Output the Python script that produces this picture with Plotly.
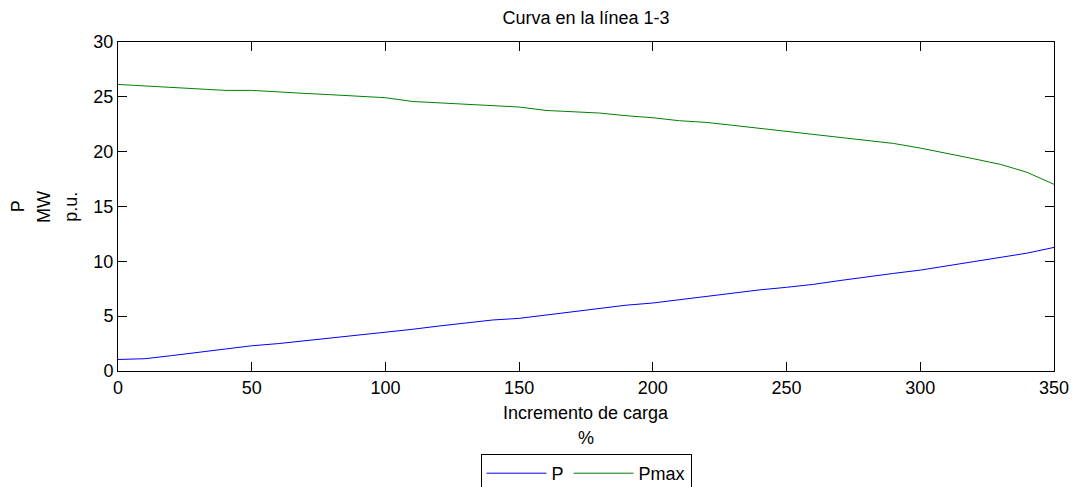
import plotly.graph_objects as go

load_pct = [0, 10, 20, 30, 40, 50, 60, 70, 80, 90, 100, 110, 120, 130, 140, 150, 160, 170,
            180, 190, 200, 210, 220, 230, 240, 250, 260, 270, 280, 290, 300, 310, 320, 330, 340, 350]
p_values = [1.05, 1.12, 1.4, 1.7, 2.0, 2.3, 2.5, 2.75, 3.0, 3.28, 3.5, 3.8, 4.1, 4.4, 4.65, 4.8,
            5.1, 5.4, 5.7, 6.0, 6.2, 6.5, 6.85, 7.15, 7.4, 7.63, 7.9, 8.25, 8.6, 8.9, 9.2, 9.6,
            9.95, 10.35, 10.75, 11.27]
pmax_values = [26.13, 26.0, 25.89, 25.77, 25.59, 25.59, 25.43, 25.31, 25.19, 25.07, 24.92, 24.58,
               24.46, 24.34, 24.22, 24.07, 23.76, 23.64, 23.52, 23.28, 23.09, 22.82, 22.67, 22.4,
               22.12, 21.85, 21.58, 21.33, 21.06, 20.75, 20.33, 19.87, 19.35, 18.84, 18.11, 17.02]

x_ticks = [0, 50, 100, 150, 200, 250, 300, 350]
y_ticks = [0, 5, 10, 15, 20, 25, 30]
y_title_lines = ["P", "MW", "p.u."]
x_title_lines = ["Incremento de carga", "%"]

FONT = "Liberation Sans, Arial, sans-serif"
W, H = 1081, 487
L, R, T, B = 118, 21, 42, 116
PW, PH = W - L - R, H - T - B

fig = go.Figure()
fig.add_trace(go.Scatter(x=load_pct, y=p_values, mode="lines", name="P",
                         line=dict(color="rgb(0,0,255)", width=1)))
fig.add_trace(go.Scatter(x=load_pct, y=pmax_values, mode="lines", name="Pmax",
                         line=dict(color="rgb(0,128,0)", width=1)))

axis_common = dict(
    showline=True, linecolor="black", linewidth=1, mirror="ticks",
    ticks="inside", ticklen=9, tickcolor="black", tickwidth=1,
    showgrid=False, zeroline=False,
    tickfont=dict(family=FONT, size=18, color="black"),
)

annotations = []
# y-axis title: three stacked rotated lines
for label, px in zip(y_title_lines, [17, 43, 70]):
    annotations.append(dict(text=label, textangle=-90, xref="paper", yref="paper",
                            x=(px - L) / PW, y=0.5, xanchor="center", yanchor="middle",
                            showarrow=False, font=dict(family=FONT, size=18, color="black")))
# x-axis title: two lines
for label, py in zip(x_title_lines, [413, 438]):
    annotations.append(dict(text=label, xref="paper", yref="paper",
                            x=0.5, y=-(py - (T + PH)) / PH, xanchor="center", yanchor="middle",
                            showarrow=False, font=dict(family=FONT, size=18, color="black")))

fig.update_layout(
    width=W, height=H,
    margin=dict(l=L, r=R, t=T, b=B),
    paper_bgcolor="white", plot_bgcolor="white",
    font=dict(family=FONT, size=18, color="black"),
    title=dict(text="Curva en la línea 1-3", x=0.5, xanchor="center", xref="paper",
               yref="container", y=1 - 18 / H, yanchor="middle",
               font=dict(family=FONT, size=18, color="black")),
    xaxis=dict(range=[0, 350], tickvals=x_ticks, **axis_common),
    yaxis=dict(range=[0, 30], tickvals=y_ticks, **axis_common),
    annotations=annotations,
    showlegend=True,
    legend=dict(orientation="h", xref="paper", x=0.5, xanchor="center",
                yref="container", y=1 - 454 / H, yanchor="top",
                bordercolor="black", borderwidth=1, bgcolor="white",
                font=dict(family=FONT, size=18, color="black"),
                itemwidth=60, tracegroupgap=10),
)

fig.write_html("out.html")
